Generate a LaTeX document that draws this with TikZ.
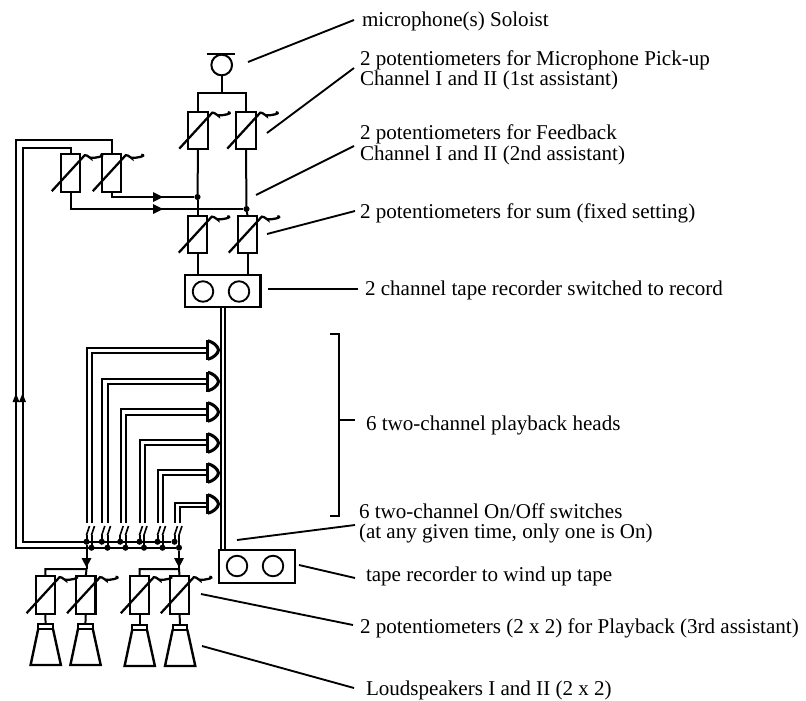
\documentclass[tikz,border=0pt]{standalone}
\usepackage{fontspec}
\setmainfont{Liberation Serif}
\usetikzlibrary{arrows.meta,calc}
\tikzset{
  wire/.style={draw=black,line width=1.5pt,line join=miter},
  lead/.style={draw=black,line width=1.4pt},
  thick box/.style={draw=black,line width=1.6pt,fill=none,inner sep=0pt,outer sep=0pt},
  potbox/.style={thick box,minimum width=14.6pt,minimum height=28pt},
  reel/.style={draw=black,line width=1.4pt,circle,inner sep=0pt,outer sep=0pt,minimum size=15.4pt},
  deck/.style={thick box,minimum width=56.5pt,minimum height=24.2pt},
  dotn/.style={fill=black,circle,inner sep=0pt,outer sep=0pt,minimum size=4.6pt},
  lab/.style={anchor=base west,inner sep=0pt,outer sep=0pt,font=\fontsize{15.8pt}{18pt}\selectfont},
}
% pot: name, cx, cy
\newcommand{\potm}[3]{%
  \node[potbox] (#1) at (#2,#3) {};
  \draw[wire,line width=1.7pt] ($(#1.south west)+(-9,-0.5)$) -- ++(33,-36)
    .. controls +(2,-1) and +(2,3) .. ++(6,2.5) .. controls +(3,1) and +(7,1) .. ++(9.5,-3);
}
\newcommand{\headm}[2]{%
  \node[inner sep=0pt,minimum size=1pt] (#1) at (207,#2) {};
  \draw[line width=2.2pt,line join=miter] (207.8,#2-10) -- (207.8,#2+10);
  \draw[line width=2.3pt] (207.8,#2-9.3) .. controls (213,#2-8) and (218,#2-4) .. (218.5,#2)
     .. controls (218,#2+4) and (213,#2+8) .. (207.8,#2+9.3);
}
\newcommand{\spk}[3]{% name, cx, y top
  \node[inner sep=0pt,outer sep=0pt,minimum size=0pt] (#1) at (#2,#3) {};
  \draw[wire,line join=miter] (#2-7.3,#3+4.5) -- (#2-7.3,#3) -- (#2+7.3,#3) -- (#2+7.3,#3+4.5) -- cycle;
  \draw[wire,line width=1.8pt,line join=miter] (#2-7.3,#3+4.5) -- (#2-15,#3+41) -- (#2+15.3,#3+41) -- (#2+7.3,#3+4.5);
}
\begin{document}
\begin{tikzpicture}[x=0.75pt,y=-0.75pt]
\useasboundingbox (0,0) rectangle (806,700);
% microphone
\node[draw=black,line width=1.5pt,circle,inner sep=0pt,outer sep=0pt,minimum size=15.5pt] (mic) at (221.7,65) {};
\coordinate (mbl) at (207,54); \coordinate (mbr) at (235,54);
\draw[line width=1.7pt] (mbl) -- (mbr);
\potm{p1}{198}{130.5}
\potm{p2}{246}{130.5}
\coordinate (mj) at (221.7,93);
\draw[wire] (mic.south) -- (mj);
\draw[wire] (p1.north) |- (mj) -| (p2.north);
% feedback pots
\potm{fa}{70.5}{173}
\potm{fb}{111.5}{173}
% sum pots
\potm{s1}{197.5}{234.5}
\potm{s2}{247.5}{234.5}
\node[dotn] (d1) at (197.5,197) {};
\node[dotn] (d2) at (246.5,209) {};
\draw[wire] (p1.south) -- (d1);
\draw[wire] (d1) -- (s1.north);
\draw[wire] (p2.south) -- (d2);
\draw[wire] (d2) -- (s2.north);
\draw[wire] (fb.south) |- (d1);
\draw[wire] (fa.south) |- (d2);
\fill (153,192) -- (163,197) -- (153,202) -- cycle;
\fill (153,204) -- (163,209) -- (153,214) -- cycle;
% recorder 1
\node[deck] (t1) at (222.8,291) {};
\node[reel] (r1) at (203,291.5) {};
\node[reel] (r2) at (239,291.5) {};
\draw[wire] (s1.south) -- (s1.south |- t1.north);
\draw[wire] (s2.south) -- (s2.south |- t1.north);
% recorder 2
\node[thick box,minimum width=57pt,minimum height=24.7pt] (t2) at (257,566.5) {};
\node[reel] (r3) at (237,566) {};
\node[reel] (r4) at (273,566) {};
\coordinate (ta) at (220.5,307.5); \coordinate (tb) at (225.3,307.5);
\coordinate (ta2) at (220.5,550); \coordinate (tb2) at (225.3,550);
\draw[wire] (ta) -- (ta2);
\draw[wire] (tb) -- (tb2);
% heads + wires
\foreach \n/\yh/\yo/\yi/\xo/\xi in {1/350/348/353/87/92,2/381.5/379/383.5/102.3/108,3/412/409/415/120.7/126,4/443/440/445/140/144.5,5/473/470/475/158/163,6/504/502.5/507/175/179.5}{
  \headm{h\n}{\yh}
  \coordinate (so\n) at (\xo,522.5);
  \coordinate (si\n) at (\xi,522.5);
  \coordinate (ho\n) at (207,\yo);
  \coordinate (hi\n) at (207,\yi);
  \draw[wire] (ho\n) -| (so\n);
  \draw[wire] (hi\n) -| (si\n);
  \draw[wire,line width=1.2pt] (\xo-0.5,535) -- ++(3,-9);
  \draw[wire,line width=1.2pt] (\xi-0.5,535) -- ++(3,-9);
  \draw[wire] (\xo-0.5,535) -- (\xo-0.5,541.7);
  \draw[wire] (\xi-0.5,535) -- (\xi-0.5,547.7);
  \node[dotn] (do\n) at (\xo-0.5,541.7) {};
  \node[dotn] (di\n) at (\xi-0.5,547.7) {};
}
% return lines
\coordinate (o1) at (16,140); \coordinate (o2) at (16,547.7);
\coordinate (i1) at (22.5,147.7); \coordinate (i2) at (22.5,541.7);
\draw[wire] (fb.north) |- (o1) -- (o2) -- (di6);
\draw[wire] (fa.north) |- (i1) -- (i2) -- (do6);
\fill (16,393.5) -- (19.5,402) -- (12.5,402) -- cycle;
\fill (22.5,393.5) -- (26,402) -- (19,402) -- cycle;
% playback pots
\potm{q1}{45.3}{595}
\potm{q2}{85.8}{595}
\potm{q3}{139.6}{595}
\potm{q4}{179.6}{595}
\coordinate (aa) at (86.5,569); \coordinate (ab) at (179,569);
\draw[wire] (do1) -- (aa);
\draw[wire] (di6) -- (ab);
\draw[wire] (q1.north) |- (aa) -- (q2.north);
\draw[wire] (q3.north) |- (ab) -- (q4.north);
\fill (81.5,558) -- (91.5,558) -- (86.5,567.5) -- cycle;
\fill (174,558) -- (184,558) -- (179,567.5) -- cycle;
\spk{k1}{45.6}{624}
\spk{k2}{85.4}{624}
\spk{k3}{139.6}{625}
\spk{k4}{180}{625}
\foreach \i in {1,2,3,4}{\draw[wire] (q\i.south) -- (k\i);}
% bracket
\coordinate (b1) at (330,334); \coordinate (b2) at (339,334); \coordinate (b3) at (339,516); \coordinate (b4) at (330,516);
\draw[wire,line width=1.4pt] (b1) -- (b2) -- (b3) -- (b4);
% labels
\node[lab] (l1) at (362,26) {microphone(s) Soloist};
\node[lab] (l2) at (360,65) {2 potentiometers for Microphone Pick-up};
\node[lab] (l2b) at (360,85) {Channel I and II (1st assistant)};
\node[lab] (l3) at (360,139) {2 potentiometers for Feedback};
\node[lab] (l3b) at (360,160) {Channel I and II (2nd assistant)};
\node[lab] (l4) at (360,218) {2 potentiometers for sum (fixed setting)};
\node[lab] (l5) at (365,295) {2 channel tape recorder switched to record};
\node[lab] (l6) at (366,430) {6 two-channel playback heads};
\node[lab] (l7) at (359,518) {6 two-channel On/Off switches};
\node[lab] (l7b) at (359,538) {(at any given time, only one is On)};
\node[lab] (l8) at (366,581) {tape recorder to wind up tape};
\node[lab] (l9) at (360,633) {2 potentiometers (2 x 2) for Playback (3rd assistant)};
\node[lab] (l10) at (366,695) {Loudspeakers I and II (2 x 2)};
% leaders
\coordinate (e1) at (354,20); \coordinate (e2) at (354,68); \coordinate (e3) at (354,146);
\coordinate (e4) at (355,211); \coordinate (e5) at (358,289); \coordinate (e6) at (355,420);
\coordinate (e7) at (355,525); \coordinate (e8) at (355,578); \coordinate (e9) at (353,625); \coordinate (e10) at (354,688);
\coordinate (f1) at (248,62); \coordinate (f2) at (267,133); \coordinate (f3) at (256,195); \coordinate (f4) at (267,234);
\coordinate (f5) at (268,289); \coordinate (f6) at (339,420); \coordinate (f7) at (237,540); \coordinate (f8) at (299,565);
\coordinate (f9) at (201,594); \coordinate (f10) at (202,646);
\foreach \i in {1,...,10}{\draw[lead] (f\i) -- (e\i);}
\end{tikzpicture}
\end{document}
